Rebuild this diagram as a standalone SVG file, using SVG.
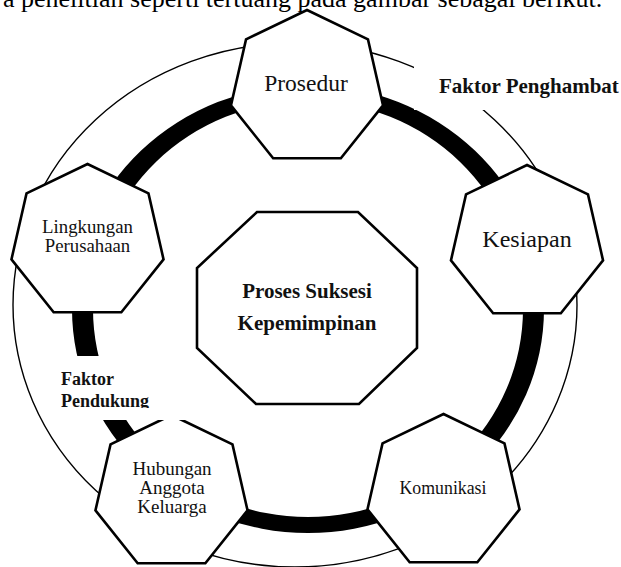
<svg xmlns="http://www.w3.org/2000/svg" width="621" height="567" viewBox="0 0 621 567">
<style>
.hep{fill:#fff;stroke:#000;stroke-width:2.6;stroke-linejoin:miter}
.oct{fill:#fff;stroke:#000;stroke-width:2.6}
.lbl{font-family:"Liberation Serif","Times New Roman",serif;fill:#111;text-anchor:middle}
.bold{font-family:"Liberation Serif","Times New Roman",serif;font-weight:bold;fill:#111}
.thin{fill:none;stroke:#000;stroke-width:1.4}
.band{fill:#000;fill-rule:evenodd;stroke:none}
.mask{fill:#fff;stroke:none}
</style>
<defs>
<polygon id="hept" points="0,-78 60.98,-48.63 76.04,17.36 33.84,70.28 -33.84,70.28 -76.04,17.36 -60.98,-48.63"/>
<clipPath id="clipL"><rect x="40" y="356" width="160" height="52"/></clipPath>
</defs>
<rect width="621" height="567" fill="#fff"/>
<text x="3" y="7" style="font-family:'Liberation Serif','Times New Roman',serif;font-size:26px;fill:#000">a penelitian seperti tertuang pada gambar sebagai berikut.</text>
<g id="connectors">
<ellipse class="thin" cx="295" cy="305" rx="282" ry="262"/>
<path class="band" d="M72,309 a236,224 0 1,0 472,0 a236,224 0 1,0 -472,0 Z M93,309 a215,208 0 1,0 430,0 a215,208 0 1,0 -430,0 Z"/>
<rect class="mask" x="414" y="60" width="207" height="50"/>
</g>
<g id="node-prosedur">
<use href="#hept" class="hep" transform="translate(307,88)"/>
<text class="lbl" x="306" y="91" font-size="23.5">Prosedur</text>
</g>
<g id="node-kesiapan">
<use href="#hept" class="hep" transform="translate(527,243)"/>
<text class="lbl" x="527" y="247" font-size="24">Kesiapan</text>
</g>
<g id="node-lingkungan">
<use href="#hept" class="hep" transform="translate(87.5,242)"/>
<text class="lbl" x="87.5" y="233" font-size="18.8">Lingkungan</text>
<text class="lbl" x="87.5" y="252" font-size="18.8">Perusahaan</text>
</g>
<g id="node-komunikasi">
<use href="#hept" class="hep" transform="translate(443.5,492)"/>
<text class="lbl" x="443" y="494" font-size="17.8">Komunikasi</text>
</g>
<g id="node-hubungan">
<use href="#hept" class="hep" transform="translate(171.5,493)"/>
<text class="lbl" x="172" y="475" font-size="19">Hubungan</text>
<text class="lbl" x="172" y="494" font-size="19">Anggota</text>
<text class="lbl" x="172" y="513" font-size="19">Keluarga</text>
</g>
<g id="node-center">
<polygon class="oct" points="257,212 358,212 417,268 417,348 359,404 256,404 197,348 197,268"/>
<text class="bold" x="307" y="298" font-size="21" text-anchor="middle">Proses Suksesi</text>
<text class="bold" x="307" y="330" font-size="21" text-anchor="middle">Kepemimpinan</text>
</g>
<g id="label-penghambat">
<text class="bold" x="439" y="93" font-size="21">Faktor Penghambat</text>
</g>
<g id="label-pendukung">
<rect class="mask" x="52" y="356" width="138" height="64"/>
<g clip-path="url(#clipL)">
<text class="bold" x="61" y="385" font-size="18">Faktor</text>
<text class="bold" x="61" y="407" font-size="18">Pendukung</text>
</g>
</g>
</svg>
